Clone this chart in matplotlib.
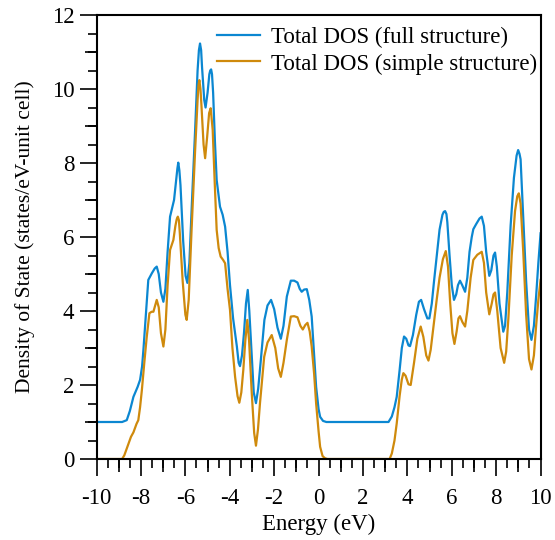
import numpy as np
import matplotlib
matplotlib.use('Agg')
from matplotlib import pyplot as plt
from matplotlib.ticker import MultipleLocator, FixedLocator, NullFormatter

# values
energy_full = [-10, -8.85, -8.64, -8.5, -8.34, -8.15, -8.04, -7.95, -7.89, -7.78,
               -7.67, -7.51, -7.38, -7.29, -7.2, -7.1, -6.99, -6.9, -6.8, -6.69,
               -6.51, -6.42, -6.36, -6.32, -6.27, -6.22, -6.1, -5.99, -5.91, -5.82, -5.7, -5.56,
               -5.45, -5.39, -5.34, -5.29, -5.25, -5.15, -5.09, -5.0, -4.92, -4.88, -4.84, -4.8, -4.75, -4.67,
               -4.59, -4.44, -4.32, -4.21, -4.1, -3.99, -3.85, -3.68, -3.6, -3.54,
               -3.45, -3.36, -3.27, -3.19, -3.12, -3.01, -2.92, -2.82, -2.72, -2.6,
               -2.44, -2.3, -2.14, -2.0, -1.85, -1.7, -1.58, -1.43, -1.25, -1.1,
               -0.95, -0.85, -0.76, -0.65, -0.53, -0.42, -0.31, -0.2, -0.11, 0.0,
               0.07, 0.2, 0.35, 3.15, 3.3, 3.42, 3.52, 3.65, 3.75, 3.85,
               3.95, 4.05, 4.12, 4.25, 4.4, 4.52, 4.62, 4.75, 4.9, 4.99,
               5.1, 5.2, 5.32, 5.45, 5.58, 5.64, 5.7, 5.76, 5.8, 5.9, 6.0, 6.1,
               6.2, 6.28, 6.37, 6.47, 6.6, 6.7, 6.8, 6.9, 6.97, 7.1,
               7.25, 7.35, 7.45, 7.55, 7.69, 7.78, 7.88, 7.95, 8.03, 8.15,
               8.32, 8.4, 8.5, 8.65, 8.8, 8.92, 8.99, 9.05, 9.1, 9.2, 9.35,
               9.48, 9.59, 9.7, 9.8, 9.9, 10.0]
dos_full = [1.0, 1.0, 1.05, 1.3, 1.68, 1.95, 2.14, 2.5, 2.95, 3.9,
            4.84, 5.02, 5.15, 5.2, 5.0, 4.5, 4.25, 4.6, 5.6, 6.55,
            7.0, 7.5, 7.85, 8.01, 7.8, 7.4, 5.9, 4.95, 4.76, 5.3, 7.0, 8.9,
            10.5, 11.05, 11.23, 11.05, 10.6, 9.7, 9.5, 9.9, 10.4, 10.5, 10.53, 10.4, 9.9, 8.6,
            7.54, 6.82, 6.6, 6.28, 5.6, 4.7, 3.8, 3.04, 2.6, 2.51,
            2.8, 3.4, 4.2, 4.57, 4.0, 2.76, 1.8, 1.51, 1.9, 2.68,
            3.76, 4.15, 4.3, 4.05, 3.55, 3.25, 3.6, 4.39, 4.82, 4.82,
            4.77, 4.6, 4.52, 4.58, 4.59, 4.3, 3.85, 2.8, 1.95, 1.35,
            1.14, 1.03, 1.0, 1.0, 1.15, 1.4, 1.68, 2.4, 3.0, 3.31,
            3.25, 3.07, 3.05, 3.35, 3.9, 4.25, 4.3, 4.05, 3.8, 3.8,
            4.2, 4.8, 5.47, 6.2, 6.6, 6.68, 6.7, 6.62, 6.4, 5.5, 4.7, 4.3,
            4.45, 4.7, 4.82, 4.7, 4.52, 4.9, 5.6, 6.0, 6.21, 6.35,
            6.5, 6.55, 6.3, 5.6, 4.95, 5.1, 5.5, 5.58, 5.2, 4.2,
            3.44, 3.6, 4.5, 6.3, 7.6, 8.2, 8.35, 8.25, 8.1, 6.8, 4.8,
            3.5, 3.22, 3.6, 4.4, 5.3, 6.1]

energy_simple = [-10, -8.85, -8.75, -8.6, -8.45, -8.34, -8.2, -8.12, -8.04, -7.96,
                 -7.85, -7.74, -7.62, -7.52, -7.44, -7.36, -7.29, -7.2, -7.1, -6.99,
                 -6.9, -6.8, -6.69, -6.54, -6.45, -6.39, -6.34, -6.29, -6.25, -6.12, -6.0, -5.94,
                 -5.85, -5.72, -5.56, -5.45, -5.41, -5.37, -5.32, -5.28, -5.18, -5.11, -5.02, -4.93,
                 -4.86, -4.77, -4.68, -4.59, -4.5, -4.41, -4.3, -4.21, -4.1, -3.99,
                 -3.88, -3.76, -3.65, -3.57, -3.48, -3.39, -3.3, -3.21, -3.13, -3.01,
                 -2.9, -2.82, -2.73, -2.64, -2.45, -2.3, -2.11, -1.95, -1.82, -1.7,
                 -1.58, -1.43, -1.25, -1.1, -0.95, -0.82, -0.71, -0.6, -0.5, -0.4,
                 -0.31, -0.2, -0.11, 0.0, 0.07, 0.18, 0.29, 0.4, 3.2, 3.3,
                 3.42, 3.52, 3.65, 3.75, 3.82, 3.92, 4.05, 4.15, 4.3, 4.45,
                 4.6, 4.72, 4.85, 4.95, 5.05, 5.2, 5.32, 5.45, 5.6, 5.73,
                 5.83, 5.93, 6.03, 6.12, 6.22, 6.3, 6.37, 6.48, 6.6, 6.7,
                 6.85, 6.97, 7.15, 7.35, 7.45, 7.55, 7.69, 7.8, 7.88, 7.95,
                 8.05, 8.2, 8.36, 8.45, 8.55, 8.7, 8.85, 8.95, 9.02, 9.1,
                 9.22, 9.35, 9.48, 9.59, 9.7, 9.8, 9.9, 10.0]
dos_simple = [0.0, 0.0, 0.1, 0.35, 0.6, 0.72, 0.95, 1.05, 1.4, 1.86,
              2.6, 3.3, 3.94, 3.98, 3.98, 4.15, 4.3, 4.1, 3.4, 3.04,
              3.5, 4.7, 5.65, 5.92, 6.3, 6.48, 6.55, 6.45, 6.1, 4.8, 3.9, 3.76,
              4.3, 6.2, 8.35, 9.7, 10.1, 10.24, 10.0, 9.6, 8.5, 8.13, 8.7, 9.35,
              9.48, 8.9, 7.5, 6.19, 5.7, 5.47, 5.38, 5.29, 4.6, 4.03,
              3.0, 2.22, 1.7, 1.52, 1.8, 2.41, 3.2, 3.76, 3.2, 1.78,
              0.7, 0.36, 0.8, 1.5, 2.76, 3.15, 3.35, 3.0, 2.45, 2.22,
              2.6, 3.22, 3.85, 3.86, 3.83, 3.6, 3.5, 3.62, 3.68, 3.45,
              3.04, 2.3, 1.5, 0.75, 0.33, 0.08, 0.02, 0.0, 0.0, 0.15,
              0.5, 0.96, 1.7, 2.15, 2.32, 2.25, 2.02, 2.0, 2.6, 3.25,
              3.58, 3.3, 2.8, 2.66, 2.95, 3.7, 4.3, 4.9, 5.4, 5.62,
              5.2, 4.2, 3.4, 3.11, 3.45, 3.8, 3.86, 3.7, 3.58, 4.0,
              4.9, 5.38, 5.52, 5.6, 5.3, 4.5, 3.91, 4.2, 4.45, 4.5,
              4.0, 3.0, 2.6, 2.9, 3.8, 5.5, 6.7, 7.1, 7.18, 6.9,
              5.6, 3.9, 2.7, 2.42, 2.8, 3.6, 4.3, 4.84]

labels = ['Total DOS (full structure)', 'Total DOS (simple structure)']

plt.rcParams['font.family'] = ['Liberation Serif', 'DejaVu Serif']
plt.rcParams['font.size'] = 16.5
plt.rcParams['axes.unicode_minus'] = False

fig = plt.figure(figsize=(5.55, 5.4), dpi=100)
ax = fig.add_axes([0.174, 0.15, 0.8, 0.8222])

ax.plot(energy_full, dos_full, color='#0b87d1', lw=1.6, label=labels[0])
ax.plot(energy_simple, dos_simple, color='#cf8a0c', lw=1.6, label=labels[1])

ax.set_xlim(-10, 10)
ax.set_ylim(0, 12)
ax.xaxis.set_major_locator(MultipleLocator(2))
ax.xaxis.set_minor_locator(MultipleLocator(0.5))
ax.yaxis.set_major_locator(MultipleLocator(2))
ax.yaxis.set_minor_locator(MultipleLocator(0.5))
ax.tick_params(which='major', direction='out', length=12, width=1.2, labelsize=16.5)
ax.tick_params(which='minor', direction='out', length=6.3, width=1.2)
ax.tick_params(axis='x', which='major', pad=9)
ax.tick_params(axis='y', which='major', pad=4)
for s in ax.spines.values():
    s.set_linewidth(1.5)

# medium ticks at the odd integers
sx = ax.secondary_xaxis('bottom')
sx.xaxis.set_major_locator(FixedLocator(np.arange(-9, 10, 2)))
sx.xaxis.set_major_formatter(NullFormatter())
sx.tick_params(direction='out', length=9, width=1.2)
sx.spines['bottom'].set_visible(False)
sy = ax.secondary_yaxis('left')
sy.yaxis.set_major_locator(FixedLocator(np.arange(1, 12, 2)))
sy.yaxis.set_major_formatter(NullFormatter())
sy.tick_params(direction='out', length=9, width=1.2)
sy.spines['left'].set_visible(False)

ax.set_xlabel('Energy (eV)', labelpad=3)
ax.set_ylabel('Density of State (states/eV-unit cell)', fontsize=15.5, labelpad=12)

ax.legend(loc='upper right', bbox_to_anchor=(1.0, 0.982), frameon=False, fontsize=16.5,
          handlelength=1.85, borderaxespad=0, borderpad=0.15, labelspacing=0.25,
          handletextpad=0.5)

fig.savefig('out.png', dpi=100)
